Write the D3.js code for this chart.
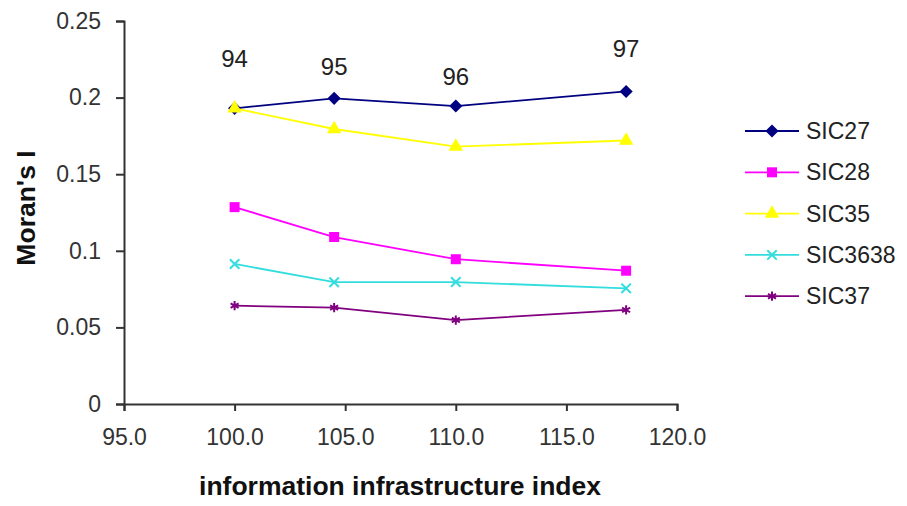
<!DOCTYPE html>
<html>
<head>
<meta charset="utf-8">
<script src="https://cdn.jsdelivr.net/npm/d3@7"></script>
<style>
  body { margin: 0; background: #fff; }
  text { font-family: "Liberation Sans", Arial, sans-serif; fill: #222; }
  .axis path, .axis line { stroke: #333; stroke-width: 2; }
</style>
</head>
<body>
<div id="chart"></div>
<script>
const width = 907,
height = 506,
margin = { top: 21, bottom: 102, left: 124, right: 230 };

// data
const xValues = [100.0, 104.5, 110.0, 117.7];
const yearLabels = ["94", "95", "96", "97"];
const labelShift = [41, 23, 21, 34];
const seriesNames = ["SIC27", "SIC28", "SIC35", "SIC3638", "SIC37"];
const sic27 = [0.193, 0.1995, 0.1945, 0.204];
const sic28 = [0.1285, 0.109, 0.0945, 0.087];
const sic35 = [0.193, 0.1795, 0.168, 0.172];
const sic3638 = [0.0914, 0.0795, 0.0796, 0.0755];
const sic37 = [0.0642, 0.0629, 0.0548, 0.0614];
const xTicks = [95, 100, 105, 110, 115, 120];
const yTicks = [0, 0.05, 0.1, 0.15, 0.2, 0.25];

const colors = ["#000080", "#ff00ff", "#ffff00", "#33dddd", "#800080"];
const shapes = ["diamond", "square", "triangle", "cross", "star"];

const series = [sic27, sic28, sic35, sic3638, sic37].map((vals, i) => ({
  name: seriesNames[i],
  color: colors[i],
  shape: shapes[i],
  points: vals.map((v, j) => ({ x: xValues[j], y: v }))
}));

const svg = d3.select("#chart")
  .append("svg")
  .attr("width", width)
  .attr("height", height);

const xScale = d3.scaleLinear()
  .domain([95, 120])
  .range([margin.left, 677]);

const yScale = d3.scaleLinear()
  .domain([0, 0.25])
  .range([404, margin.top]);

svg.append("g")
  .attr("class", "axis x-axis")
  .attr("transform", `translate(0,${yScale(0)})`)
  .call(d3.axisBottom(xScale).tickValues(xTicks).tickFormat(d3.format(".1f")).tickSizeOuter(0).tickSize(7).tickPadding(18))
  .selectAll("text")
  .style("font-size", "23px")
  .style("fill", "#333");

svg.append("g")
  .attr("class", "axis y-axis")
  .attr("transform", `translate(${xScale(95)},0)`)
  .call(d3.axisLeft(yScale).tickValues(yTicks).tickFormat(d => d === 0 ? "0" : String(+d.toFixed(2))).tickSizeOuter(0).tickSize(8).tickPadding(15))
  .selectAll("text")
  .style("font-size", "23px")
  .style("fill", "#333");

svg.append("text")
  .attr("x", 400)
  .attr("y", 495)
  .attr("text-anchor", "middle")
  .style("font-size", "26.5px")
  .style("font-weight", "bold")
  .style("fill", "#111")
  .text("information infrastructure index");

svg.append("text")
  .attr("transform", "translate(35,208) rotate(-90)")
  .attr("text-anchor", "middle")
  .style("font-size", "26.5px")
  .style("font-weight", "bold")
  .style("fill", "#111")
  .text("Moran's I");

const symbolFor = {
  diamond: d3.symbol().type(d3.symbolDiamond2 || d3.symbolDiamond).size(110),
  square: d3.symbol().type(d3.symbolSquare).size(100),
  triangle: d3.symbol().type(d3.symbolTriangle).size(90),
  cross: d3.symbol().type(d3.symbolTimes).size(60),
  star: d3.symbol().type(d3.symbolAsterisk).size(60)
};
const strokeShape = s => s === "cross" || s === "star";

const line = d3.line()
  .x(d => xScale(d.x))
  .y(d => yScale(d.y));

const g = svg.selectAll(".series")
  .data(series)
  .join("g")
  .attr("class", "series");

g.append("path")
  .attr("d", d => line(d.points))
  .attr("fill", "none")
  .attr("stroke", d => d.color)
  .attr("stroke-width", 1.8);

g.each(function(s) {
  d3.select(this)
    .selectAll(".pt")
    .data(s.points)
    .join("path")
    .attr("class", "pt")
    .attr("transform", d => `translate(${xScale(d.x)},${yScale(d.y)})`)
    .attr("d", symbolFor[s.shape])
    .attr("fill", strokeShape(s.shape) ? "none" : s.color)
    .attr("stroke", strokeShape(s.shape) ? s.color : "none")
    .attr("stroke-width", 2);
});

// year labels over SIC27
svg.selectAll(".year")
  .data(sic27)
  .join("text")
  .attr("class", "year")
  .attr("x", (d, i) => xScale(xValues[i]))
  .attr("y", (d, i) => yScale(d) - labelShift[i])
  .attr("text-anchor", "middle")
  .style("font-size", "24px")
  .text((d, i) => yearLabels[i]);

// legend
const legend = svg.selectAll(".legend")
  .data(series)
  .join("g")
  .attr("class", "legend")
  .attr("transform", (d, i) => `translate(745,${131 + i * 41.3})`);

legend.append("line")
  .attr("x1", 0)
  .attr("x2", 54)
  .attr("stroke", d => d.color)
  .attr("stroke-width", 1.8);

legend.append("path")
  .attr("transform", "translate(27,0)")
  .attr("d", d => symbolFor[d.shape]())
  .attr("fill", d => strokeShape(d.shape) ? "none" : d.color)
  .attr("stroke", d => strokeShape(d.shape) ? d.color : "none")
  .attr("stroke-width", 2);

legend.append("text")
  .attr("x", 61)
  .attr("y", 8)
  .style("font-size", "23px")
  .text(d => d.name);
</script>
</body>
</html>
